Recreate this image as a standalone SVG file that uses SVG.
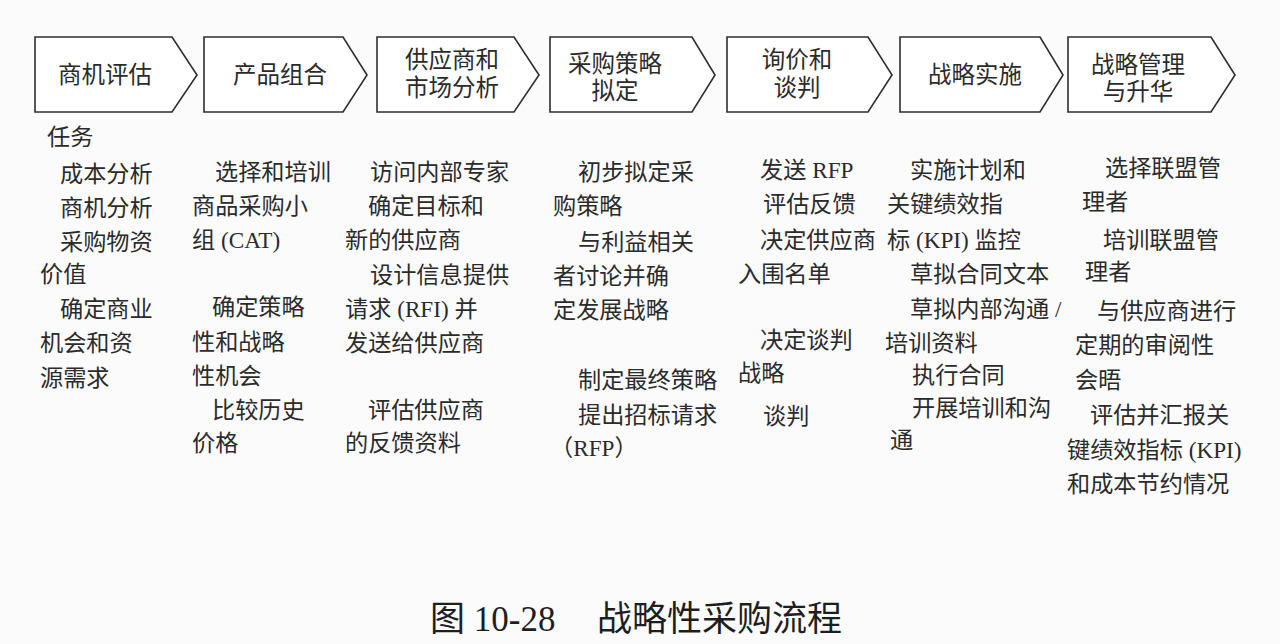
<svg xmlns="http://www.w3.org/2000/svg" width="1280" height="644" viewBox="0 0 1280 644">
<style>
.bg{fill:#fbfbfc}
.chev{fill:#ffffff;stroke:#2e2e2e;stroke-width:1.6;stroke-linejoin:miter}
.lbl{font-family:"Liberation Serif","Noto Sans CJK SC",sans-serif;font-size:23.5px;fill:#2b2b2b;text-anchor:middle}
.t{font-family:"Liberation Serif","Noto Sans CJK SC",sans-serif;font-size:23.2px;fill:#2b2b2b}
.cap{font-family:"Liberation Serif","Noto Sans CJK SC",serif;font-size:35px;fill:#1e1e1e}
</style>
<rect class="bg" x="0" y="0" width="1280" height="644"/>

<g id="node1">
<path class="chev" d="M35,37 H172 L197,75 L172,112 H35 Z"/>
<text class="lbl" x="105" y="83">商机评估</text>
</g>
<g id="node2">
<path class="chev" d="M204,37 H343 L367,75 L343,112 H204 Z"/>
<text class="lbl" x="280" y="83">产品组合</text>
</g>
<g id="node3">
<path class="chev" d="M377,37 H514 L539,75 L514,112 H377 Z"/>
<text class="lbl" x="452" y="68">供应商和</text>
<text class="lbl" x="452" y="96">市场分析</text>
</g>
<g id="node4">
<path class="chev" d="M550,37 H692 L715,75 L692,112 H550 Z"/>
<text class="lbl" x="615" y="72">采购策略</text>
<text class="lbl" x="615" y="99">拟定</text>
</g>
<g id="node5">
<path class="chev" d="M727,37 H868 L892,75 L868,112 H727 Z"/>
<text class="lbl" x="797" y="68">询价和</text>
<text class="lbl" x="797" y="96">谈判</text>
</g>
<g id="node6">
<path class="chev" d="M900,37 H1040 L1063,75 L1040,112 H900 Z"/>
<text class="lbl" x="975" y="83">战略实施</text>
</g>
<g id="node7">
<path class="chev" d="M1068,37 H1211 L1235,75 L1211,112 H1068 Z"/>
<text class="lbl" x="1138" y="73">战略管理</text>
<text class="lbl" x="1138" y="100">与升华</text>
</g>

<g id="col1">
<text class="t" x="47" y="145">任务</text>
<text class="t" x="60" y="182">成本分析</text>
<text class="t" x="60" y="216">商机分析</text>
<text class="t" x="60" y="250">采购物资</text>
<text class="t" x="40" y="282">价值</text>
<text class="t" x="60" y="317">确定商业</text>
<text class="t" x="40" y="351">机会和资</text>
<text class="t" x="40" y="386">源需求</text>
</g>
<g id="col2">
<text class="t" x="215" y="180">选择和培训</text>
<text class="t" x="192" y="214">商品采购小</text>
<text class="t" x="192" y="248">组 (CAT)</text>
<text class="t" x="212" y="315">确定策略</text>
<text class="t" x="192" y="350">性和战略</text>
<text class="t" x="192" y="384">性机会</text>
<text class="t" x="212" y="418">比较历史</text>
<text class="t" x="192" y="451">价格</text>
</g>
<g id="col3">
<text class="t" x="370" y="180">访问内部专家</text>
<text class="t" x="368" y="214">确定目标和</text>
<text class="t" x="345" y="248">新的供应商</text>
<text class="t" x="370" y="283">设计信息提供</text>
<text class="t" x="345" y="317">请求 (RFI) 并</text>
<text class="t" x="345" y="351">发送给供应商</text>
<text class="t" x="368" y="418">评估供应商</text>
<text class="t" x="345" y="451">的反馈资料</text>
</g>
<g id="col4">
<text class="t" x="578" y="180">初步拟定采</text>
<text class="t" x="553" y="214">购策略</text>
<text class="t" x="578" y="250">与利益相关</text>
<text class="t" x="553" y="284">者讨论并确</text>
<text class="t" x="553" y="318">定发展战略</text>
<text class="t" x="578" y="388">制定最终策略</text>
<text class="t" x="578" y="423">提出招标请求</text>
<text class="t" x="550" y="456">（RFP）</text>
</g>
<g id="col5">
<text class="t" x="760" y="178">发送 RFP</text>
<text class="t" x="763" y="212">评估反馈</text>
<text class="t" x="760" y="248">决定供应商</text>
<text class="t" x="738" y="282">入围名单</text>
<text class="t" x="760" y="348">决定谈判</text>
<text class="t" x="738" y="381">战略</text>
<text class="t" x="763" y="424">谈判</text>
</g>
<g id="col6">
<text class="t" x="910" y="178">实施计划和</text>
<text class="t" x="887" y="212">关键绩效指</text>
<text class="t" x="887" y="248">标 (KPI) 监控</text>
<text class="t" x="910" y="282">草拟合同文本</text>
<text class="t" x="910" y="317">草拟内部沟通 /</text>
<text class="t" x="885" y="351">培训资料</text>
<text class="t" x="912" y="383">执行合同</text>
<text class="t" x="912" y="416">开展培训和沟</text>
<text class="t" x="890" y="448">通</text>
</g>
<g id="col7">
<text class="t" x="1105" y="176">选择联盟管</text>
<text class="t" x="1082" y="210">理者</text>
<text class="t" x="1103" y="248">培训联盟管</text>
<text class="t" x="1085" y="280">理者</text>
<text class="t" x="1097" y="319">与供应商进行</text>
<text class="t" x="1075" y="353">定期的审阅性</text>
<text class="t" x="1075" y="388">会晤</text>
<text class="t" x="1090" y="423">评估并汇报关</text>
<text class="t" x="1067" y="458">键绩效指标 (KPI)</text>
<text class="t" x="1067" y="492">和成本节约情况</text>
</g>

<g id="caption">
<text class="cap" x="430" y="631">图 10-28</text>
<text class="cap" x="597" y="631">战略性采购流程</text>
</g>
</svg>
